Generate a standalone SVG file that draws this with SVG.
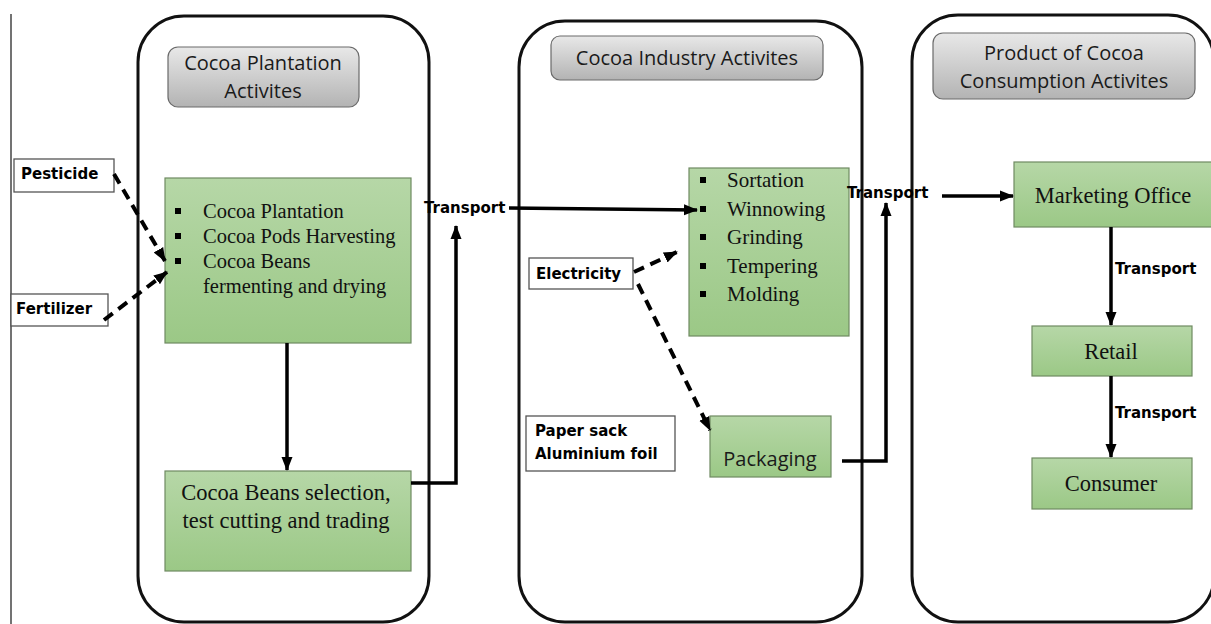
<svg xmlns="http://www.w3.org/2000/svg" width="1211" height="624" viewBox="0 0 1211 624">
<style>
.cont{fill:none;stroke:#111;stroke-width:3}
.title{fill:url(#gg);stroke:#6a6a6a;stroke-width:1.2}
.gbox{fill:url(#gr);stroke:#6f8a62;stroke-width:1.2}
.wbox{fill:#fff;stroke:#555;stroke-width:1.3}
.sans{font-family:"Open Sans","Liberation Sans",sans-serif;font-size:20px;fill:#1a1a1a}
.serif{font-family:"Liberation Serif","Times New Roman",serif;fill:#111}
.lbl{font-family:"DejaVu Sans",sans-serif;font-weight:bold;font-size:15px;fill:#000}
.solid{fill:none;stroke:#000;stroke-width:3.5}
.dash{fill:none;stroke:#000;stroke-width:4;stroke-dasharray:11 7}
.bul{fill:#000}
</style>
<defs>
<linearGradient id="gg" x1="0" y1="0" x2="0" y2="1"><stop offset="0" stop-color="#e8e8e8"/><stop offset="1" stop-color="#b3b3b3"/></linearGradient>
<linearGradient id="gr" x1="0" y1="0" x2="0" y2="1"><stop offset="0" stop-color="#b6d7a7"/><stop offset="1" stop-color="#9bc886"/></linearGradient>
<marker id="ah" markerWidth="14" markerHeight="14" refX="13" refY="7" orient="auto" markerUnits="userSpaceOnUse"><path d="M0,1.5 L14,7 L0,12.5 z" fill="#000"/></marker>
</defs>

<line x1="11" y1="14" x2="11" y2="624" stroke="#444" stroke-width="1.5"/>

<g id="plantation">
<rect class="cont" x="138" y="16" width="291" height="606" rx="46"/>
<rect class="title" x="168" y="47" width="191" height="60" rx="10"/>
<text class="sans" x="263" y="70" text-anchor="middle">Cocoa Plantation</text>
<text class="sans" x="263" y="98" text-anchor="middle">Activites</text>
</g>
<g id="industry">
<rect class="cont" x="519" y="21" width="343" height="601" rx="46"/>
<rect class="title" x="551" y="36" width="272" height="44" rx="9"/>
<text class="sans" x="687" y="65" text-anchor="middle">Cocoa Industry Activites</text>
</g>
<g id="consumption">
<rect class="cont" x="912" y="15" width="302" height="607" rx="46"/>
<rect class="title" x="933" y="33" width="262" height="66" rx="10"/>
<text class="sans" x="1064" y="60" text-anchor="middle">Product of Cocoa</text>
<text class="sans" x="1064" y="88" text-anchor="middle">Consumption Activites</text>
</g>

<g id="pesticide">
<rect class="wbox" x="14" y="159" width="100" height="33"/>
<text class="lbl" x="21" y="179">Pesticide</text>
</g>
<g id="fertilizer">
<rect class="wbox" x="11" y="294" width="97" height="32"/>
<text class="lbl" x="16" y="314">Fertilizer</text>
</g>
<g id="plantation-steps">
<rect class="gbox" x="165" y="178" width="246" height="165"/>
<rect class="bul" x="175" y="208" width="6" height="6"/>
<rect class="bul" x="175" y="233" width="6" height="6"/>
<rect class="bul" x="175" y="258" width="6" height="6"/>
<text class="serif" font-size="20.5" x="203" y="218">Cocoa Plantation</text>
<text class="serif" font-size="20.5" x="203" y="243">Cocoa Pods Harvesting</text>
<text class="serif" font-size="20.5" x="203" y="268">Cocoa Beans</text>
<text class="serif" font-size="20.5" x="203" y="293">fermenting and drying</text>
</g>
<g id="selection">
<rect class="gbox" x="165" y="471" width="246" height="100"/>
<text class="serif" font-size="22.5" x="286" y="500" text-anchor="middle">Cocoa Beans selection,</text>
<text class="serif" font-size="22.5" x="286" y="528" text-anchor="middle">test cutting and trading</text>
</g>
<g id="industry-steps">
<rect class="gbox" x="689" y="168" width="160" height="168"/>
<rect class="bul" x="700" y="177" width="6" height="6"/>
<rect class="bul" x="700" y="206" width="6" height="6"/>
<rect class="bul" x="700" y="234" width="6" height="6"/>
<rect class="bul" x="700" y="263" width="6" height="6"/>
<rect class="bul" x="700" y="291" width="6" height="6"/>
<text class="serif" font-size="21" x="727" y="187">Sortation</text>
<text class="serif" font-size="21" x="727" y="216">Winnowing</text>
<text class="serif" font-size="21" x="727" y="244">Grinding</text>
<text class="serif" font-size="21" x="727" y="273">Tempering</text>
<text class="serif" font-size="21" x="727" y="301">Molding</text>
</g>
<g id="electricity">
<rect class="wbox" x="529" y="258" width="104" height="31"/>
<text class="lbl" x="536" y="279">Electricity</text>
</g>
<g id="papersack">
<rect class="wbox" x="526" y="416" width="149" height="55"/>
<text class="lbl" x="535" y="436">Paper sack</text>
<text class="lbl" x="535" y="459">Aluminium foil</text>
</g>
<g id="packaging">
<rect class="gbox" x="710" y="416" width="121" height="61"/>
<text class="sans" x="770" y="466" text-anchor="middle">Packaging</text>
</g>
<g id="marketing">
<rect class="gbox" x="1014" y="162" width="200" height="65"/>
<text class="serif" font-size="22.5" x="1113" y="203" text-anchor="middle">Marketing Office</text>
</g>
<g id="retail">
<rect class="gbox" x="1032" y="326" width="160" height="50"/>
<text class="serif" font-size="22.5" x="1111" y="359" text-anchor="middle">Retail</text>
</g>
<g id="consumer">
<rect class="gbox" x="1032" y="458" width="160" height="51"/>
<text class="serif" font-size="22.5" x="1111" y="491" text-anchor="middle">Consumer</text>
</g>

<g id="connectors">
<path class="dash" d="M114,174 L165,261" marker-end="url(#ah)"/>
<path class="dash" d="M104,320 L167,272" marker-end="url(#ah)"/>
<path class="solid" d="M287,343 V470" marker-end="url(#ah)"/>
<path class="solid" d="M411,483 H456 V226" marker-end="url(#ah)"/>
<text class="lbl" x="424" y="213">Transport</text>
<path class="solid" d="M509,208 L697,210" marker-end="url(#ah)"/>
<path class="dash" d="M634,272 L677,252" marker-end="url(#ah)"/>
<path class="dash" d="M638,284 L710,430" marker-end="url(#ah)"/>
<path class="solid" d="M842,461 H886 V203" marker-end="url(#ah)"/>
<text class="lbl" x="847" y="198">Transport</text>
<path class="solid" d="M942,196 H1013" marker-end="url(#ah)"/>
<path class="solid" d="M1111,227 V325" marker-end="url(#ah)"/>
<text class="lbl" x="1115" y="274">Transport</text>
<path class="solid" d="M1111,376 V457" marker-end="url(#ah)"/>
<text class="lbl" x="1115" y="418">Transport</text>
</g>
</svg>
